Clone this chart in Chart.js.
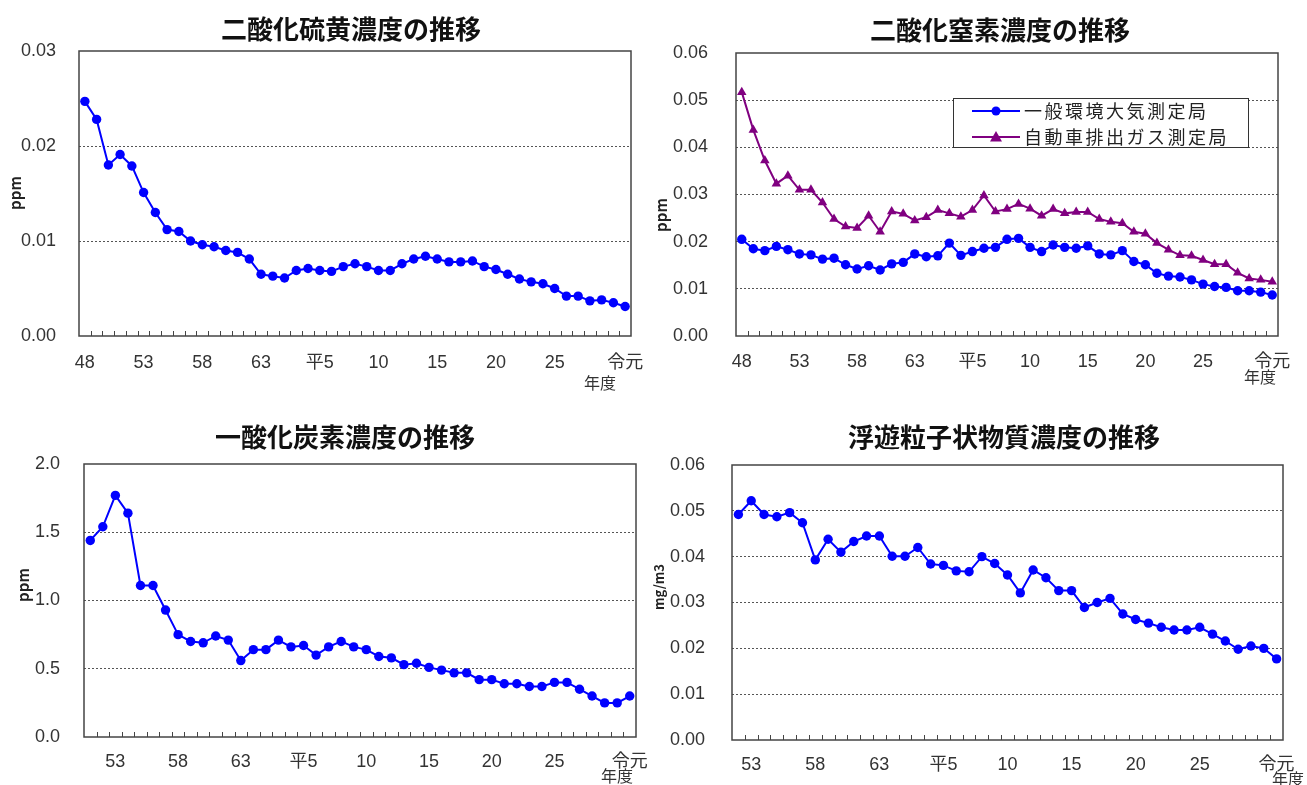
<!DOCTYPE html>
<html lang="ja">
<head>
<meta charset="utf-8">
<title>大気汚染物質濃度の推移</title>
<script src="https://cdn.jsdelivr.net/npm/chart.js@4.4.0/dist/chart.umd.min.js"></script>
<style>
  body { margin: 0; background: #fff; }
  #wrap { position: relative; width: 1307px; height: 785px; overflow: hidden; }
  #wrap canvas { position: absolute; }
</style>
</head>
<body>
<div id="wrap">
  <canvas id="so2" width="653" height="392" style="left:0;top:0"></canvas>
  <canvas id="no2" width="654" height="392" style="left:653px;top:0"></canvas>
  <canvas id="co" width="653" height="393" style="left:0;top:392px"></canvas>
  <canvas id="spm" width="654" height="393" style="left:653px;top:392px"></canvas>
</div>
<script>
// 年度 (昭和48 ～ 令和元)
const years = ['48','49','50','51','52','53','54','55','56','57','58','59','60','61','62','63',
  '平1','2','3','4','平5','6','7','8','9','10','11','12','13','14','15','16','17','18','19','20',
  '21','22','23','24','25','26','27','28','29','30','令元'];
// 目盛に表示する年度
const tickLabels = ['48','53','58','63','平5','10','15','20','25','令元'];

// 二酸化硫黄 (ppm)
const so2 = [0.0247,0.0228,0.0180,0.0191,0.0179,0.0151,0.0130,0.0112,0.0110,0.0100,0.0096,0.0094,0.0090,0.0088,0.0081,0.0065,
  0.0063,0.0061,0.0069,0.0071,0.0069,0.0068,0.0073,0.0076,0.0073,0.0069,0.0069,0.0076,0.0081,0.0084,0.0081,0.0078,0.0078,0.0079,0.0073,0.0070,
  0.0065,0.0060,0.0057,0.0055,0.0050,0.0042,0.0042,0.0037,0.0038,0.0035,0.0031];

// 二酸化窒素 (ppm) 一般局
const no2General = [0.0205,0.0185,0.0181,0.0190,0.0183,0.0174,0.0172,0.0163,0.0165,0.0151,0.0142,0.0149,0.0140,0.0153,0.0156,0.0174,
  0.0168,0.0170,0.0197,0.0171,0.0179,0.0186,0.0188,0.0205,0.0207,0.0188,0.0179,0.0193,0.0188,0.0186,0.0191,0.0174,0.0172,0.0181,0.0158,0.0151,
  0.0133,0.0127,0.0125,0.0119,0.0110,0.0105,0.0103,0.0096,0.0096,0.0093,0.0087];
// 二酸化窒素 (ppm) 自排局
const no2Roadside = [0.0517,0.0437,0.0372,0.0323,0.0340,0.0310,0.0310,0.0283,0.0248,0.0232,0.0229,0.0255,0.0221,0.0264,0.0259,0.0245,
  0.0252,0.0267,0.0260,0.0253,0.0267,0.0298,0.0264,0.0269,0.0280,0.0270,0.0255,0.0269,0.0260,0.0263,0.0263,0.0248,0.0242,0.0239,0.0221,0.0217,
  0.0197,0.0183,0.0171,0.0170,0.0161,0.0152,0.0152,0.0134,0.0122,0.0119,0.0115];

// 一酸化炭素 (ppm) 昭和51年度から
const coYears = years.slice(3);
const co = [1.44,1.54,1.77,1.64,1.11,1.11,0.93,0.75,0.70,0.69,0.74,0.71,0.56,
  0.64,0.64,0.71,0.66,0.67,0.60,0.66,0.70,0.66,0.64,0.59,0.58,0.53,0.54,0.51,0.49,0.47,0.47,0.42,0.42,
  0.39,0.39,0.37,0.37,0.40,0.40,0.35,0.30,0.25,0.25,0.30];

// 浮遊粒子状物質 (mg/m3) 昭和52年度から
const spmYears = years.slice(4);
const spm = [0.0492,0.0522,0.0492,0.0487,0.0496,0.0474,0.0393,0.0438,0.0410,0.0433,0.0445,0.0445,
  0.0401,0.0401,0.0420,0.0384,0.0381,0.0369,0.0367,0.0400,0.0385,0.0360,0.0321,0.0371,0.0354,0.0326,0.0326,0.0289,0.0300,0.0309,
  0.0275,0.0263,0.0255,0.0246,0.0240,0.0240,0.0246,0.0231,0.0216,0.0198,0.0205,0.0200,0.0177];

const BLUE = '#0000ff';
const PURPLE = '#800080';
const TICK_FONT = "'Liberation Sans', 'Noto Sans CJK JP', sans-serif";
const CJK_FONT = "'Noto Sans CJK JP', sans-serif";

// 枠線と内向きの目盛線
const framePlugin = {
  id: 'frame',
  beforeDatasetsDraw(chart) {
    const ctx = chart.ctx, a = chart.chartArea, x = chart.scales.x;
    ctx.save();
    ctx.strokeStyle = '#444';
    ctx.lineWidth = 1;
    ctx.beginPath();
    for (let i = 1; i < x.ticks.length; i++) {
      const px = Math.round((x.getPixelForTick(i - 1) + x.getPixelForTick(i)) / 2) + 0.5;
      ctx.moveTo(px, a.bottom);
      ctx.lineTo(px, a.bottom - 5);
    }
    ctx.stroke();
    ctx.lineWidth = 1.5;
    ctx.strokeRect(a.left, a.top, a.right - a.left, a.bottom - a.top);
    ctx.restore();
  }
};

// タイトル・単位・「年度」の文字
const notesPlugin = {
  id: 'notes',
  afterDraw(chart, args, opts) {
    const ctx = chart.ctx;
    (opts.items || []).forEach(function(it) {
      ctx.save();
      ctx.font = (it.weight || 'normal') + ' ' + it.size + 'px ' + CJK_FONT;
      ctx.fillStyle = it.color || '#222';
      ctx.textAlign = 'center';
      ctx.textBaseline = 'middle';
      ctx.translate(it.x, it.y);
      if (it.rot) ctx.rotate(it.rot);
      ctx.fillText(it.text, 0, 0);
      ctx.restore();
    });
  }
};

// 線＋マーカーの凡例
const lineLegendPlugin = {
  id: 'lineLegend',
  afterDraw(chart, args, opts) {
    if (!opts.box) return;
    const ctx = chart.ctx, b = opts.box;
    ctx.save();
    ctx.fillStyle = '#fff';
    ctx.fillRect(b.left, b.top, b.right - b.left, b.bottom - b.top);
    ctx.strokeStyle = '#333';
    ctx.lineWidth = 1;
    ctx.strokeRect(b.left + 0.5, b.top + 0.5, b.right - b.left, b.bottom - b.top);
    chart.data.datasets.forEach(function(ds, i) {
      const y = opts.rows[i];
      ctx.strokeStyle = ds.borderColor;
      ctx.fillStyle = ds.borderColor;
      ctx.lineWidth = 2;
      ctx.beginPath();
      ctx.moveTo(opts.lineStart, y);
      ctx.lineTo(opts.lineEnd, y);
      ctx.stroke();
      const cx = (opts.lineStart + opts.lineEnd) / 2;
      ctx.beginPath();
      if (ds.pointStyle === 'triangle') {
        ctx.moveTo(cx, y - 6);
        ctx.lineTo(cx + 6, y + 4.5);
        ctx.lineTo(cx - 6, y + 4.5);
        ctx.closePath();
      } else {
        ctx.arc(cx, y, 4.5, 0, Math.PI * 2);
      }
      ctx.fill();
      ctx.fillStyle = '#222';
      ctx.font = '18px ' + CJK_FONT;
      if ('letterSpacing' in ctx) ctx.letterSpacing = '2.5px';
      ctx.textAlign = 'left';
      ctx.textBaseline = 'middle';
      ctx.fillText(ds.label, opts.textX, y);
    });
    ctx.restore();
  }
};

function series(label, data, color, style) {
  return {
    label: label,
    data: data,
    borderColor: color,
    backgroundColor: color,
    borderWidth: 2,
    pointStyle: style,
    pointRadius: style === 'triangle' ? 5.5 : 4.7,
    pointBorderWidth: 0,
    pointHoverRadius: 4.7,
    tension: 0,
    clip: false
  };
}

function makeChart(id, labels, datasets, cfg) {
  return new Chart(document.getElementById(id), {
    type: 'line',
    data: { labels: labels, datasets: datasets },
    plugins: [framePlugin, notesPlugin, lineLegendPlugin],
    options: {
      responsive: false,
      animation: false,
      events: [],
      layout: { padding: { top: cfg.top, right: cfg.right, left: 0, bottom: 0 } },
      plugins: {
        legend: { display: false },
        tooltip: { enabled: false },
        notes: { items: cfg.notes },
        lineLegend: cfg.legend || {}
      },
      scales: {
        x: {
          type: 'category',
          offset: true,
          grid: { display: false, drawTicks: false },
          border: { display: false },
          ticks: {
            autoSkip: false,
            maxRotation: 0,
            padding: cfg.xPad,
            color: '#333',
            font: { family: TICK_FONT, size: cfg.font },
            callback: function(value) {
              const lab = this.getLabelForValue(value);
              return tickLabels.includes(lab) ? lab : '';
            }
          },
          afterFit: function(s) {
            s.height = cfg.xh;
            // 端のラベルで描画領域が縮まないようにする
            s.paddingLeft = 0;
            s.paddingRight = 0;
          }
        },
        y: {
          min: 0,
          max: cfg.max,
          grid: {
            drawTicks: false,
            lineWidth: 1,
            color: function(c) {
              const n = c.scale.ticks.length;
              return (c.index === 0 || c.index === n - 1) ? 'rgba(0,0,0,0)' : '#555';
            }
          },
          border: { display: false, dash: [2, 2] },
          ticks: {
            stepSize: cfg.step,
            padding: cfg.yPad,
            color: '#333',
            font: { family: TICK_FONT, size: cfg.font },
            callback: function(v) { return Number(v).toFixed(cfg.dec); }
          },
          afterFit: function(s) {
            s.width = cfg.yw;
            s.paddingTop = 0;
            s.paddingBottom = 0;
          }
        }
      }
    }
  });
}

makeChart('so2', years, [series('二酸化硫黄', so2, BLUE, 'circle')], {
  top: 51, right: 22, yw: 79, xh: 56, max: 0.03, step: 0.01, dec: 2, font: 18, xPad: 16, yPad: 23,
  notes: [
    { text: '二酸化硫黄濃度の推移', x: 351, y: 29, size: 26, weight: 'bold', color: '#111' },
    { text: 'ppm', x: 15, y: 193, size: 15, weight: 'bold', rot: -Math.PI / 2 },
    { text: '年度', x: 600, y: 383, size: 16, color: '#333' }
  ]
});

makeChart('no2', years, [
  series('一般環境大気測定局', no2General, BLUE, 'circle'),
  series('自動車排出ガス測定局', no2Roadside, PURPLE, 'triangle')
], {
  top: 53, right: 29, yw: 83, xh: 56, max: 0.06, step: 0.01, dec: 2, font: 18, xPad: 15, yPad: 28,
  notes: [
    { text: '二酸化窒素濃度の推移', x: 347, y: 30, size: 26, weight: 'bold', color: '#111' },
    { text: 'ppm', x: 8, y: 215, size: 15, weight: 'bold', rot: -Math.PI / 2 },
    { text: '年度', x: 607, y: 377, size: 16, color: '#333' }
  ],
  legend: {
    box: { left: 300, top: 98, right: 595, bottom: 147 },
    rows: [111, 137],
    lineStart: 319, lineEnd: 367, textX: 371
  }
});

makeChart('co', coYears, [series('一酸化炭素', co, BLUE, 'circle')], {
  top: 72, right: 17, yw: 84, xh: 48, max: 2.0, step: 0.5, dec: 1, font: 18, xPad: 14, yPad: 24,
  notes: [
    { text: '一酸化炭素濃度の推移', x: 345, y: 45, size: 26, weight: 'bold', color: '#111' },
    { text: 'ppm', x: 23, y: 193, size: 15, weight: 'bold', rot: -Math.PI / 2 },
    { text: '年度', x: 617, y: 384, size: 16, color: '#333' }
  ]
});

makeChart('spm', spmYears, [series('浮遊粒子状物質', spm, BLUE, 'circle')], {
  top: 73, right: 24, yw: 79, xh: 45, max: 0.06, step: 0.01, dec: 2, font: 18, xPad: 14, yPad: 27,
  notes: [
    { text: '浮遊粒子状物質濃度の推移', x: 351, y: 45, size: 26, weight: 'bold', color: '#111' },
    { text: 'mg/m3', x: 6, y: 195, size: 13, weight: 'bold', rot: -Math.PI / 2 },
    { text: '年度', x: 635, y: 387, size: 16, color: '#333' }
  ]
});
</script>
</body>
</html>
